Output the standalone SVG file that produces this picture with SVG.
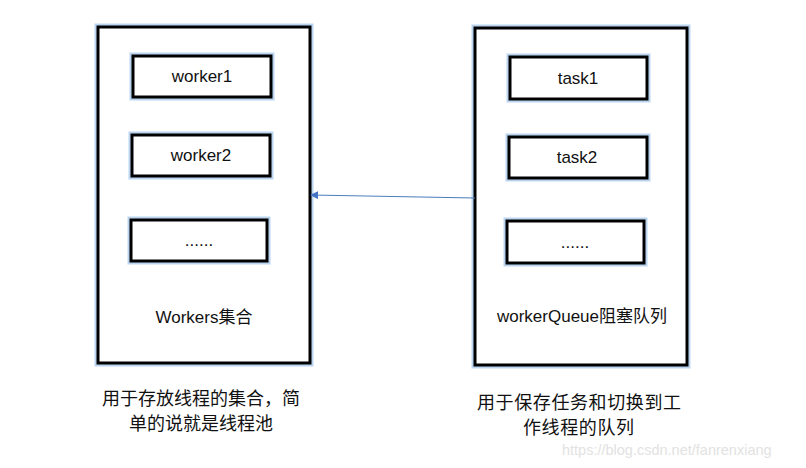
<svg xmlns="http://www.w3.org/2000/svg" width="806" height="468" viewBox="0 0 806 468">
<style>
.glow{fill:none;stroke:#a9c9ec;stroke-width:7;stroke-opacity:0.8}
.box{fill:#fff;stroke:#000;stroke-width:3}
.t{font-family:"Liberation Sans","Noto Sans CJK SC",sans-serif;font-size:17px;fill:#111;text-anchor:middle}
.c{font-family:"Noto Sans CJK SC","Liberation Sans",sans-serif;font-size:18px;fill:#111}
.c2{font-family:"Noto Sans CJK SC","Liberation Sans",sans-serif;font-size:18px;letter-spacing:0.6px;fill:#111}
.w{font-family:"Liberation Sans",sans-serif;font-size:14.5px;fill:#e2e2e2}
</style>
<defs>
<marker id="ah" markerWidth="8" markerHeight="8" refX="7" refY="4" orient="auto" markerUnits="userSpaceOnUse">
<path d="M0,0 L8,4 L0,8 Z" fill="#4472c4"/>
</marker>
</defs>
<rect width="806" height="468" fill="#fff"/>
<g id="workers">
<rect class="glow" x="98" y="27" width="212" height="336"/>
<rect class="box" x="98" y="27" width="212" height="336"/>
<text class="t" x="204" y="323">Workers集合</text>
</g>
<g id="worker1">
<rect class="glow" x="133" y="56" width="138" height="41"/>
<rect class="box" x="133" y="56" width="138" height="41"/>
<text class="t" x="202" y="82">worker1</text>
</g>
<g id="worker2">
<rect class="glow" x="132" y="135" width="138" height="41"/>
<rect class="box" x="132" y="135" width="138" height="41"/>
<text class="t" x="201" y="161">worker2</text>
</g>
<g id="workerMore">
<rect class="glow" x="131" y="220" width="136" height="41"/>
<rect class="box" x="131" y="220" width="136" height="41"/>
<text class="t" x="199" y="246">......</text>
</g>
<g id="queue">
<rect class="glow" x="475" y="28" width="212" height="337"/>
<rect class="box" x="475" y="28" width="212" height="337"/>
<text class="t" x="582" y="322">workerQueue阻塞队列</text>
</g>
<g id="task1">
<rect class="glow" x="510" y="57" width="137" height="42"/>
<rect class="box" x="510" y="57" width="137" height="42"/>
<text class="t" x="578" y="84">task1</text>
</g>
<g id="task2">
<rect class="glow" x="509" y="137" width="138" height="41"/>
<rect class="box" x="509" y="137" width="138" height="41"/>
<text class="t" x="577" y="163">task2</text>
</g>
<g id="taskMore">
<rect class="glow" x="507" y="221" width="137" height="42"/>
<rect class="box" x="507" y="221" width="137" height="42"/>
<text class="t" x="575" y="248">......</text>
</g>
<g id="connectors">
<line x1="475" y1="198" x2="311" y2="195" stroke="#4a7ebb" stroke-width="1.2" marker-end="url(#ah)"/>
</g>
<g id="captions">
<text class="c" x="102" y="405">用于存放线程的集合，简</text>
<text class="c" x="129" y="430">单的说就是线程池</text>
<text class="c2" x="477" y="409">用于保存任务和切换到工</text>
<text class="c2" x="523" y="434">作线程的队列</text>
<text class="w" x="562" y="455">https://blog.csdn.net/fanrenxiang</text>
</g>
</svg>
